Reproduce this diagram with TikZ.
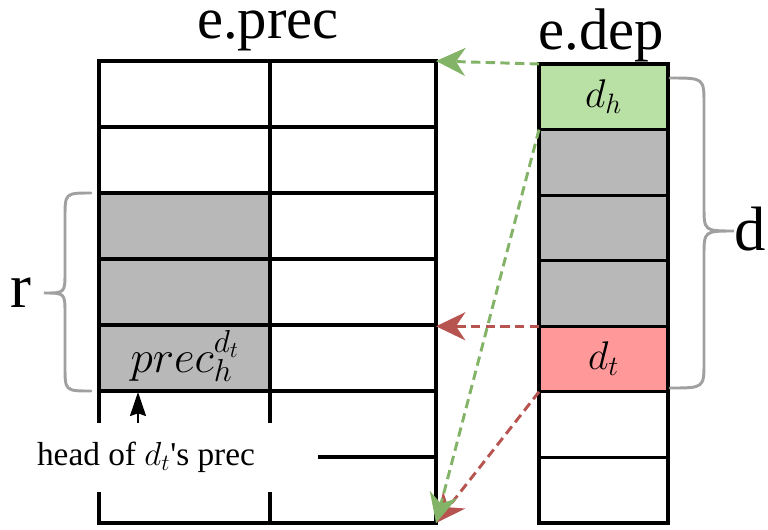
\RequirePackage{fix-cm}
\documentclass[tikz,border=0pt]{standalone}
\usepackage{fontspec}
\setmainfont{Liberation Serif}[Ligatures=TeXOff]
\usetikzlibrary{arrows.meta}

\definecolor{cellgray}{HTML}{B8B8B8}
\definecolor{headgreen}{HTML}{B9E0A5}
\definecolor{tailred}{HTML}{FF9999}
\definecolor{linkgreen}{HTML}{82B366}
\definecolor{linkred}{HTML}{B85450}
\definecolor{bracegray}{HTML}{A0A0A0}

\begin{document}
\begin{tikzpicture}[x=0.75pt,y=-0.75pt,
  cell/.style={draw=black, line width=2.4pt, inner sep=0pt, outer sep=0pt,
    anchor=north west, minimum height=49.5pt},
  preccol/.style={cell, minimum width=128.25pt},
  preccolb/.style={cell, minimum width=124.5pt},
  depcell/.style={cell, minimum width=96.75pt, minimum height=49.2pt,
    font=\fontsize{30}{34}\selectfont},
  title/.style={anchor=base, inner sep=0pt, text height=0.5em,
    font=\fontsize{44}{50}\selectfont},
  bracelabel/.style={inner sep=0pt, font=\fontsize{47}{52}\selectfont},
  brace/.style={draw=bracegray, line width=2.2pt, line cap=round},
  link/.style={line width=2.2pt, dash pattern=on 7pt off 4pt,
    -{Stealth[length=22pt, width=21pt, inset=7pt]}},
]
\useasboundingbox (0,0) rectangle (768,529);

% e.prec: two columns of seven rows
\foreach \r/\f in {0/white,1/white,2/cellgray,3/cellgray,4/cellgray,5/white,6/white} {
  \node[preccol, fill=\f] (pa\r) at (99,{61+66*\r}) {};
  \node[preccolb] (pb\r) at (270,{61+66*\r}) {};
}
\node[inner sep=0pt, font=\fontsize{34}{38}\selectfont] (prech) at (185,356) {$prec_h^{d_t}$};

% e.dep: one column of seven rows
\foreach \r/\f/\t in {0/headgreen/$d_h$,1/cellgray/,2/cellgray/,3/cellgray/,4/tailred/$d_t$,5/white/,6/white/} {
  \node[depcell, fill=\f] (d\r) at (539,{64+65.57*\r}) {\t};
}

% titles
\node[title] (tprec) at (268,38) {e.prec};
\node[title] (tdep) at (601,49) {e.dep};

% brace over the shaded rows of e.prec
\draw[brace] (91,193) .. controls (65,193) .. (65,218) -- (65,272)
  .. controls (65,293) .. (44,293) .. controls (65,293) .. (65,314)
  -- (65,366) .. controls (65,391) .. (91,391);
\node[bracelabel] (r) at (21,293) {r};

% brace over the span of e.dep
\draw[brace] (670,78) .. controls (704,78) .. (704,104) -- (704,206)
  .. controls (704,231) .. (734,231) .. controls (704,231) .. (704,256)
  -- (704,362) .. controls (704,388) .. (670,388);
\node[bracelabel] (d) at (750,229) {d};

% links from e.dep to e.prec
\draw[link, linkgreen] (d0.north west) -- (pb0.north east);
\draw[link, linkred] (d4.north west) -- (d4.north west -| pb4.east);
\draw[link, linkred] (d5.north west) -- (pb6.south east);
\draw[link, linkgreen] (d1.north west) -- (pb6.south east);

% label pointing at the head row
\node[fill=white, inner sep=0pt, minimum width=258pt, minimum height=51.75pt,
  font=\fontsize{25}{29}\selectfont] (lbl) at (146,457.5) {head of $d_t$'s prec};
\coordinate (ptr) at (138,392);
\draw[line width=1.5pt, -{Stealth[length=18pt, width=12pt, inset=2pt]}] (lbl.north -| ptr) -- (ptr);
\end{tikzpicture}
\end{document}
